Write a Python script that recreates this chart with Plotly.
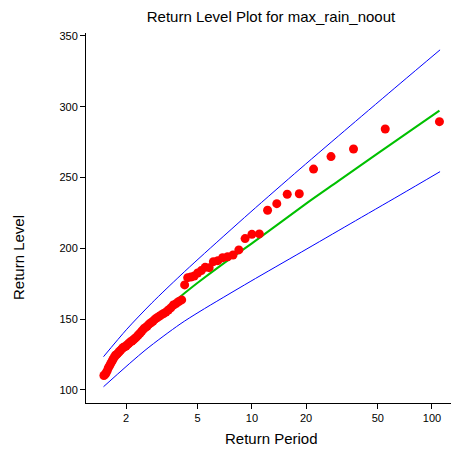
import plotly.graph_objects as go

period_obs = [1.507, 1.528, 1.549, 1.571, 1.594, 1.618, 1.642, 1.667, 1.692, 1.719,
              1.746, 1.774, 1.803, 1.833, 1.864, 1.897, 1.930, 1.964, 2.000, 2.037,
              2.075, 2.115, 2.157, 2.200, 2.245, 2.292, 2.340, 2.391, 2.444, 2.500,
              2.558, 2.619, 2.683, 2.750, 2.821, 2.895, 2.973, 3.056, 3.143, 3.235,
              3.333, 3.438, 3.548, 3.667, 3.793, 3.929, 4.074, 4.231, 4.400, 4.583,
              4.783, 5.000, 5.238, 5.500, 5.789, 6.111, 6.471, 6.875, 7.333, 7.857,
              8.462, 9.167, 10.0, 11.0, 12.22, 13.75, 15.71, 18.33, 22.0, 27.5,
              36.67, 55.0, 110.0]
level_obs = [110.2, 110.8, 112.0, 113.5, 115.5, 117.0, 118.5, 120.0, 121.5, 123.0,
             124.5, 125.0, 126.0, 127.0, 128.0, 129.0, 130.0, 130.5, 131.0, 132.0,
             133.0, 134.0, 134.5, 135.5, 136.5, 137.5, 138.8, 140.0, 141.5, 143.0,
             144.0, 145.0, 146.5, 147.5, 148.5, 150.0, 151.0, 152.0, 153.0, 154.0,
             155.0, 156.5, 158.0, 160.0, 161.0, 162.5, 163.6, 174.2, 179.3, 179.8,
             180.5, 182.6, 184.3, 186.6, 186.4, 190.6, 191.3, 193.4, 194.1, 195.3,
             198.9, 206.9, 209.9, 210.2, 226.9, 231.6, 238.2, 238.6, 256.0, 264.8,
             270.2, 284.3, 289.5]

# Fitted return level curve
period_fit = [1.5, 2, 3, 4, 5, 7, 10, 20, 30, 50, 75, 110]
level_fit = [113.5, 132.4, 152.8, 165.9, 175.7, 189.6, 203.5, 231.6, 247.3, 267.1, 282.6, 297.3]

# Upper confidence limit
period_up = [1.5, 2.02, 2.78, 3.99, 5.15, 9.77, 18.5, 35.1, 66.5, 110.9]
upper_ci = [123.5, 142.9, 161.4, 180.6, 193.6, 225.3, 256.1, 286.4, 316.4, 340.2]
# Lower confidence limit
period_lo = [1.5, 2.55, 3.99, 5.15, 9.77, 18.9, 35.1, 66.5, 110.9]
lower_ci = [102.3, 128.0, 146.5, 155.5, 176.5, 197.5, 217.3, 237.7, 254.2]

x_ticks = [2, 5, 10, 20, 50, 100]
x_ticktext = ["2", "5", "10", "20", "50", "100"]
y_ticks = [100, 150, 200, 250, 300, 350]

fig = go.Figure()
fig.add_trace(go.Scatter(x=period_up, y=upper_ci, mode="lines",
                         line=dict(color="#0000FF", width=1, shape="spline", smoothing=0.8),
                         showlegend=False, hoverinfo="skip"))
fig.add_trace(go.Scatter(x=period_lo, y=lower_ci, mode="lines",
                         line=dict(color="#0000FF", width=1, shape="spline", smoothing=0.8),
                         showlegend=False, hoverinfo="skip"))
fig.add_trace(go.Scatter(x=period_fit, y=level_fit, mode="lines",
                         line=dict(color="#00C000", width=2, shape="spline", smoothing=0.8),
                         showlegend=False))
fig.add_trace(go.Scatter(x=period_obs, y=level_obs, mode="markers",
                         marker=dict(color="#FF0000", size=9, line=dict(width=0)),
                         showlegend=False))

font_family = "Liberation Sans, Arial, sans-serif"
fig.update_layout(
    width=451, height=449,
    margin=dict(l=86, r=0, t=33, b=46),
    paper_bgcolor="white", plot_bgcolor="white",
    font=dict(family=font_family, color="black", size=11),
    title=dict(text="Return Level Plot for max_rain_noout", x=271 / 451, xref="container",
               xanchor="center", y=1 - 17 / 449, yref="container", yanchor="middle",
               font=dict(size=15, family=font_family, color="black")),
    xaxis=dict(type="log", range=[0.0788, 2.1056], tickvals=x_ticks, ticktext=x_ticktext,
               showgrid=False, zeroline=False, showline=True, linecolor="black", linewidth=1,
               ticks="outside", ticklen=5, tickcolor="black", tickfont=dict(size=11)),
    yaxis=dict(range=[90.8, 352.1], tickvals=y_ticks, showgrid=False, zeroline=False,
               showline=True, linecolor="black", linewidth=1,
               ticks="outside", ticklen=5, tickcolor="black", tickfont=dict(size=11)),
    annotations=[
        dict(text="Return Period", xref="paper", yref="paper", x=(271 - 86) / 365,
             y=(403 - 439) / 370, xanchor="center", yanchor="middle", showarrow=False,
             font=dict(size=15, family=font_family, color="black")),
        dict(text="Return Level", xref="paper", yref="paper", x=(18 - 86) / 365,
             y=(403 - 258) / 370, xanchor="center", yanchor="middle", showarrow=False,
             textangle=-90, font=dict(size=15, family=font_family, color="black")),
    ],
)

fig.write_html("out.html", config={"displayModeBar": False},
               post_script="document.body.style.margin='0';document.body.style.overflow='hidden';")
